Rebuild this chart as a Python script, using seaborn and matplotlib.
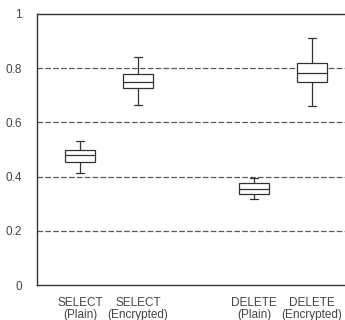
import pandas as pd
import matplotlib
matplotlib.use("Agg")
import matplotlib.pyplot as plt
import seaborn as sns

# five-number summaries: low whisker, Q1, median, Q3, high whisker
categories = ["SELECT\n(Plain)", "SELECT\n(Encrypted)", "DELETE\n(Plain)", "DELETE\n(Encrypted)"]
select_plain = [0.415, 0.455, 0.480, 0.500, 0.533]
select_enc = [0.663, 0.726, 0.748, 0.778, 0.840]
delete_plain = [0.318, 0.337, 0.356, 0.378, 0.396]
delete_enc = [0.659, 0.748, 0.781, 0.818, 0.911]
yticks = [0, 0.2, 0.4, 0.6, 0.8, 1]
ytick_labels = ["0", "0.2", "0.4", "0.6", "0.8", "1"]

rows = []
for cat, vals in zip(categories, [select_plain, select_enc, delete_plain, delete_enc]):
    for v in vals:
        rows.append({"query": cat, "value": v})
df = pd.DataFrame(rows)

sns.set_style("white")
plt.rcParams["font.family"] = ["Liberation Sans", "DejaVu Sans"]

fig = plt.figure(figsize=(3.45, 3.2), dpi=100)
ax = fig.add_axes([37 / 345, 1 - 285 / 320, 308 / 345, 271 / 320])

# blank spacer category leaves the gap between SELECT and DELETE
order = [categories[0], categories[1], " ", categories[2], categories[3]]
ink = "#333333"
sns.boxplot(data=df, x="query", y="value", order=order, whis=(0, 100),
            width=0.52, color="white", linecolor=ink, linewidth=0.9,
            ax=ax, zorder=3)

# narrower whisker caps, like the original
nbox = len(categories)
caps = [ln for ln in ax.lines if len(ln.get_xdata()) == 2
        and ln.get_ydata()[0] == ln.get_ydata()[1]
        and ln.get_ydata()[0] in (select_plain + select_enc + delete_plain + delete_enc)[::1]]
for ln in caps:
    yv = ln.get_ydata()[0]
    lows_highs = [s[0] for s in (select_plain, select_enc, delete_plain, delete_enc)] + \
                 [s[-1] for s in (select_plain, select_enc, delete_plain, delete_enc)]
    if yv in lows_highs:
        x0, x1 = ln.get_xdata()
        xc = (x0 + x1) / 2
        ln.set_xdata([xc - 0.07, xc + 0.07])

for y in yticks[1:-1]:
    ax.axhline(y, color="#5a5a5a", lw=0.9, ls=(0, (4.5, 1.8)), zorder=1)

ax.set_ylim(0, 1)
ax.set_xlim(-0.74, 4.57)
ax.set_yticks(yticks)
ax.set_yticklabels(ytick_labels)
ax.set_xticks([0, 1, 3, 4])
ax.set_xticklabels(categories, linespacing=0.95)
ax.set_xlabel("")
ax.set_ylabel("")

for side in ["left", "top", "bottom"]:
    ax.spines[side].set_visible(True)
    ax.spines[side].set_color(ink)
    ax.spines[side].set_linewidth(1.0)
ax.spines["right"].set_visible(False)

ax.tick_params(axis="x", direction="in", length=3, width=0.8, color=ink,
               labelsize=8.5, labelcolor="#444444", pad=9)
ax.tick_params(axis="y", direction="in", length=0, labelsize=8.5,
               labelcolor="#444444", pad=11)

fig.savefig("out.png", dpi=100)
